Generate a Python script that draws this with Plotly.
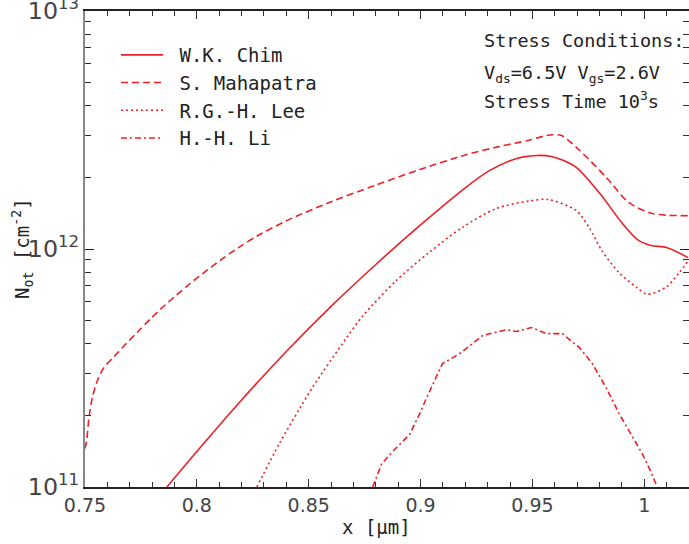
import plotly.graph_objects as go

# ---- data (x in um, N_ot in cm^-2) ----
x_chim = [0.7866, 0.80, 0.82, 0.84, 0.86, 0.88, 0.90, 0.92, 0.93, 0.94, 0.946, 0.952, 0.958, 0.964, 0.97, 0.98, 0.99, 0.997, 1.003, 1.01, 1.0196]
n_chim = [1.00e11, 1.41e11, 2.32e11, 3.71e11, 5.74e11, 8.61e11, 1.262e12, 1.807e12, 2.113e12, 2.350e12, 2.438e12, 2.472e12, 2.455e12, 2.355e12, 2.188e12, 1.718e12, 1.288e12, 1.096e12, 1.035e12, 1.014e12, 9.2e11]

x_maha = [0.750, 0.7507, 0.7518, 0.7533, 0.7555, 0.7585, 0.763, 0.7674, 0.7734, 0.7793, 0.7853, 0.7897, 0.7972, 0.8046, 0.8121, 0.8195, 0.827, 0.84, 0.86, 0.88, 0.90, 0.92, 0.935, 0.948, 0.955, 0.959, 0.963, 0.971, 0.983, 0.993, 1.0036, 1.0196]
n_maha = [1.45e11, 1.56e11, 1.96e11, 2.38e11, 2.79e11, 3.18e11, 3.53e11, 3.91e11, 4.47e11, 5.09e11, 5.76e11, 6.26e11, 7.18e11, 8.16e11, 9.20e11, 1.026e12, 1.134e12, 1.314e12, 1.579e12, 1.856e12, 2.163e12, 2.483e12, 2.692e12, 2.858e12, 2.979e12, 3.020e12, 3.000e12, 2.60e12, 2.00e12, 1.57e12, 1.41e12, 1.38e12]

x_lee = [0.8268, 0.837, 0.846, 0.8518, 0.8668, 0.8743, 0.8891, 0.904, 0.9189, 0.9338, 0.9487, 0.957, 0.9696, 0.9754, 0.981, 0.9888, 0.9964, 1.0013, 1.0098, 1.0156, 1.0196]
n_lee = [1.00e11, 1.53e11, 2.14e11, 2.63e11, 4.22e11, 5.25e11, 7.36e11, 9.70e11, 1.236e12, 1.479e12, 1.592e12, 1.614e12, 1.45e12, 1.23e12, 9.86e11, 7.94e11, 6.92e11, 6.46e11, 6.92e11, 7.94e11, 8.91e11]

x_li = [0.8786, 0.8826, 0.8875, 0.8951, 0.8996, 0.9027, 0.9098, 0.9174, 0.9232, 0.9277, 0.9384, 0.9429, 0.9496, 0.9563, 0.9634, 0.971, 0.9768, 0.983, 0.9888, 0.9933, 0.9991, 1.0022, 1.0058]
n_li = [1.00e11, 1.25e11, 1.41e11, 1.66e11, 2.03e11, 2.37e11, 3.30e11, 3.63e11, 4.00e11, 4.33e11, 4.58e11, 4.50e11, 4.68e11, 4.41e11, 4.41e11, 3.85e11, 3.30e11, 2.61e11, 2.03e11, 1.72e11, 1.38e11, 1.20e11, 1.00e11]

names = ["W.K. Chim", "S. Mahapatra", "R.G.-H. Lee", "H.-H. Li"]
x_ticks = [0.75, 0.8, 0.85, 0.9, 0.95, 1.0]
x_ticktext = ["0.75", "0.8", "0.85", "0.9", "0.95", "1"]

RED = "rgb(236,32,38)"
MONO = "DejaVu Sans Mono"

series = [
    (x_chim, n_chim, "solid", "spline"),
    (x_maha, n_maha, "7px,4px", "spline"),
    (x_lee, n_lee, "2px,3px", "spline"),
    (x_li, n_li, "6px,3px,2px,3px", "linear"),
]

fig = go.Figure()
for i, (xs, ys, dash, shape) in enumerate(series):
    fig.add_trace(go.Scatter(
        x=xs, y=ys, mode="lines", name="\u00a0" + names[i],
        line=dict(color=RED, width=1.6, dash=dash, shape=shape, smoothing=0.8),
    ))

fig.update_layout(
    width=689, height=544,
    margin=dict(l=85, r=0, t=11, b=57),
    paper_bgcolor="white", plot_bgcolor="white",
    showlegend=True,
    legend=dict(
        x=(116 - 85) / 604, y=(487 - 36) / 476, xanchor="left", yanchor="top",
        font=dict(family=MONO, size=19, color="#222"),
        bgcolor="rgba(0,0,0,0)", itemwidth=42, tracegroupgap=0,
    ),
    xaxis=dict(
        range=[0.75, 1.02], tickvals=x_ticks, ticktext=x_ticktext,
        ticks="inside", ticklen=8, tickcolor="#333", tickwidth=1,
        showline=True, linecolor="#222", linewidth=1.5, mirror="ticks",
        showgrid=False, zeroline=False, automargin=False,
        ticklabeloverflow="allow",
        tickfont=dict(family="DejaVu Sans", size=19, color="#444"),
        minor=dict(dtick=0.01, ticks="inside", ticklen=5, tickcolor="#333", showgrid=False),
    ),
    yaxis=dict(
        type="log", range=[11, 13], dtick=1, exponentformat="power",
        ticks="inside", ticklen=9, tickcolor="#222", tickwidth=1,
        showline=True, linecolor="#888", linewidth=2, mirror="ticks",
        showgrid=False, zeroline=False, automargin=False,
        ticklabeloverflow="allow",
        tickfont=dict(family="DejaVu Sans", size=19, color="#444"),
        minor=dict(dtick="D1", ticks="inside", ticklen=6, tickcolor="#333", showgrid=False),
    ),
)

ann_font = dict(family=MONO, size=18.5, color="#222")
ax0 = (482 - 85) / 604
fig.add_annotation(xref="paper", yref="paper", x=ax0, y=(487 - 40) / 476, xanchor="left", yanchor="middle",
                   text="Stress Conditions:", showarrow=False, font=ann_font)
fig.add_annotation(xref="paper", yref="paper", x=ax0, y=(487 - 74) / 476, xanchor="left", yanchor="middle",
                   text="V<sub>ds</sub>=6.5V V<sub>gs</sub>=2.6V", showarrow=False, font=ann_font)
fig.add_annotation(xref="paper", yref="paper", x=ax0, y=(487 - 100) / 476, xanchor="left", yanchor="middle",
                   text="Stress Time 10<sup>3</sup>s", showarrow=False, font=ann_font)

# axis titles
fig.add_annotation(xref="paper", yref="paper", x=(376 - 85) / 604, y=-(527 - 487) / 476,
                   xanchor="center", yanchor="middle", text="x [μm]", showarrow=False,
                   font=dict(family=MONO, size=19, color="#222"))
fig.add_annotation(xref="paper", yref="paper", x=-(85 - 22) / 604, y=0.5,
                   xanchor="center", yanchor="middle", textangle=-90,
                   text="N<sub>ot</sub> [cm<sup>-2</sup>]", showarrow=False,
                   font=dict(family=MONO, size=19, color="#222"))

fig.write_html("out.html", config={"displayModeBar": False},
               post_script="document.body.style.margin='0';document.body.style.padding='0';")
